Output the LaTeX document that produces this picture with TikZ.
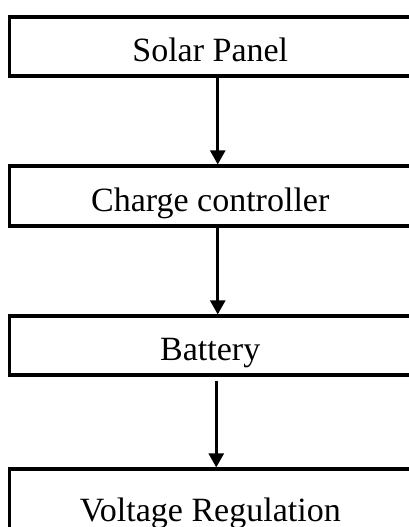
\documentclass[tikz,border=0pt]{standalone}
\usepackage{fontspec}
\setmainfont{Liberation Serif}
\usetikzlibrary{arrows.meta}

\begin{document}
\begin{tikzpicture}[x=1pt, y=-1pt,
    blockbox/.style={draw, line width=3.2pt, inner sep=0pt,
        minimum width=401.5pt, text height=30pt, text depth=0pt,
        font=\fontsize{34}{40}\selectfont},
    flowarrow/.style={line width=2.6pt, -{Triangle[length=14pt, width=15pt]}}]
    \useasboundingbox (0, 0) rectangle (409, 527);
    \clip (0, 0) rectangle (409, 527);

    % Blocos
    \node[blockbox, minimum height=59pt] (solar) at (210.25, 46.5) {Solar Panel};
    \node[blockbox, minimum height=60pt] (charge) at (210.25, 196) {Charge controller};
    \node[blockbox, minimum height=59pt] (battery) at (210.25, 345.5) {Battery};
    \node[blockbox, minimum height=74pt] (voltage) at (210.25, 506) {Voltage Regulation};

    % Setas
    \draw[flowarrow] ([xshift=7.5pt]solar.south) -- ([xshift=7.5pt]charge.north);
    \draw[flowarrow] ([xshift=7.5pt]charge.south) -- ([xshift=7.5pt]battery.north);
    \draw[flowarrow] ([xshift=6pt, yshift=-4pt]battery.south) -- ([xshift=6pt]voltage.north);
\end{tikzpicture}
\end{document}
